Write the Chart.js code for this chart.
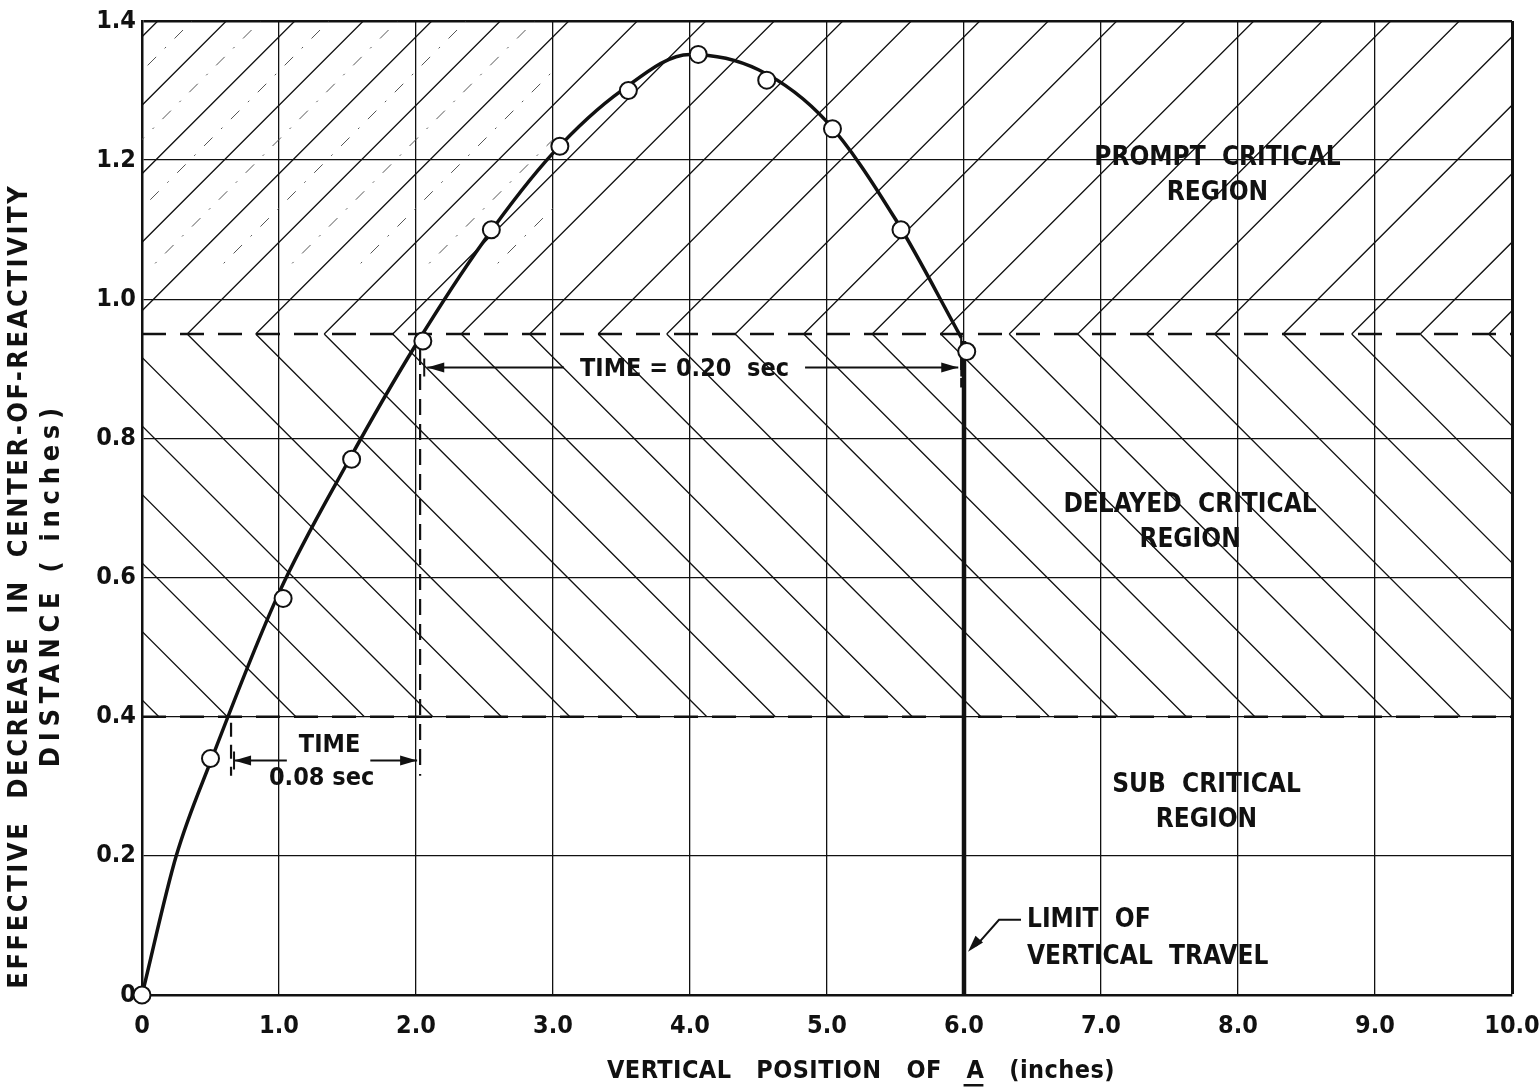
<!DOCTYPE html>
<html>
<head>
<meta charset="utf-8">
<script src="https://cdn.jsdelivr.net/npm/chart.js@4.4.0/dist/chart.umd.min.js"></script>
<style>
  html, body { margin: 0; padding: 0; background: #fff; }
</style>
</head>
<body>
<canvas id="reactivityChart" width="1539" height="1087"></canvas>
<script>
// measured points (open circles)
const pointX = [0, 0.5, 1.03, 1.53, 2.05, 2.55, 3.05, 3.55, 4.06, 4.56, 5.04, 5.54, 6.02];
const pointY = [0, 0.34, 0.57, 0.77, 0.94, 1.10, 1.22, 1.30, 1.352, 1.315, 1.245, 1.10, 0.925];

// faired curve
const curveX = [0, 0.25, 0.5, 1.0, 1.5, 2.0, 2.5, 3.0, 3.5, 4.0, 4.5, 5.0, 5.5, 5.98];
const curveY = [0, 0.20, 0.335, 0.578, 0.765, 0.935, 1.085, 1.21, 1.30, 1.352, 1.33, 1.255, 1.115, 0.945];

const xTickLabels = ["0", "1.0", "2.0", "3.0", "4.0", "5.0", "6.0", "7.0", "8.0", "9.0", "10.0"];
const yTickLabels = ["0", "0.2", "0.4", "0.6", "0.8", "1.0", "1.2", "1.4"];

// region boundaries (sub / delayed / prompt critical)
const subLimit = 0.4;
const promptLimit = 0.95;
const limitX = 6.0;
const limitTop = 0.94;

// hatch repeat along x (data units)
const hatchStart = 0.33;
const hatchStep = 0.5;

// time spans
const shortSpan = { from: 0.65, to: 2.03, y: 0.337, bottom: 0.315 };
const longSpan = { from: 2.06, to: 5.98, y: 0.902 };

const FONT = "'DejaVu Sans Condensed', 'DejaVu Sans', sans-serif";
const INK = "#111";

function arrowHead(ctx, x, y, dir) {
  ctx.beginPath();
  ctx.moveTo(x, y);
  ctx.lineTo(x - dir * 17, y - 5);
  ctx.lineTo(x - dir * 17, y + 5);
  ctx.closePath();
  ctx.fill();
}

function dashedLine(ctx, x1, y1, x2, y2, dash, w) {
  ctx.save();
  ctx.setLineDash(dash);
  ctx.lineWidth = w;
  ctx.beginPath();
  ctx.moveTo(x1, y1);
  ctx.lineTo(x2, y2);
  ctx.stroke();
  ctx.restore();
}

// draw text stretched to a given width with letter spacing
function spacedText(ctx, text, x, y, width) {
  ctx.letterSpacing = "0px";
  const w = ctx.measureText(text).width;
  const sp = Math.max(0, (width - w) / text.length);
  ctx.letterSpacing = sp + "px";
  ctx.fillText(text, x + sp / 2, y);
  ctx.letterSpacing = "0px";
}

const regionsPlugin = {
  id: "regions",
  beforeDatasetsDraw(chart) {
    const { ctx, chartArea: a, scales: { x, y } } = chart;
    const yP = y.getPixelForValue(promptLimit);
    const yS = y.getPixelForValue(subLimit);

    ctx.save();
    ctx.beginPath();
    ctx.rect(a.left, a.top, a.right - a.left, a.bottom - a.top);
    ctx.clip();
    ctx.strokeStyle = INK;
    ctx.fillStyle = INK;

    // hatching: up-right above the prompt line, down-right between the dashed lines
    ctx.lineWidth = 1.3;
    ctx.beginPath();
    for (let k = -14; k <= 22; k++) {
      const px = x.getPixelForValue(hatchStart + k * hatchStep);
      ctx.moveTo(px, yP);
      ctx.lineTo(px + (yP - a.top), a.top);
      ctx.moveTo(px, yP);
      ctx.lineTo(px + (yS - yP), yS);
    }
    ctx.stroke();

    // faint dash-dot construction lines in the upper left
    ctx.save();
    ctx.beginPath();
    ctx.rect(a.left, a.top, x.getPixelForValue(3.0) - a.left, y.getPixelForValue(1.05) - a.top);
    ctx.clip();
    ctx.strokeStyle = "#555";
    ctx.setLineDash([12, 12, 2, 12]);
    ctx.lineWidth = 1;
    ctx.beginPath();
    for (let k = -14; k <= 8; k++) {
      const px = x.getPixelForValue(hatchStart + (k + 0.5) * hatchStep);
      ctx.moveTo(px, yP);
      ctx.lineTo(px + (yP - a.top), a.top);
    }
    ctx.stroke();
    ctx.restore();

    // region boundaries
    dashedLine(ctx, a.left, yP, a.right, yP, [24, 14], 2.6);
    dashedLine(ctx, a.left, yS, a.right, yS, [24, 14], 2.6);

    // 0.08 sec span
    const sx1 = x.getPixelForValue(shortSpan.from);
    const sx2 = x.getPixelForValue(shortSpan.to);
    const sy = y.getPixelForValue(shortSpan.y);
    dashedLine(ctx, sx1, yS + 6, sx1, y.getPixelForValue(shortSpan.bottom), [14, 8], 2.2);
    dashedLine(ctx, sx2, y.getPixelForValue(pointY[4]) + 8, sx2, y.getPixelForValue(shortSpan.bottom), [16, 9], 2.2);
    ctx.font = "bold 25px " + FONT;
    ctx.textAlign = "center";
    ctx.textBaseline = "middle";
    const tMid = (sx1 + sx2) / 2 + 4;
    const tW = ctx.measureText("TIME").width;
    ctx.fillText("TIME", tMid, sy - 15);
    ctx.fillText("0.08 sec", tMid - 8, sy + 18);
    ctx.lineWidth = 2;
    ctx.beginPath();
    ctx.moveTo(sx1 + 3, sy); ctx.lineTo(tMid - tW / 2 - 12, sy);
    ctx.moveTo(tMid + tW / 2 + 10, sy); ctx.lineTo(sx2 - 3, sy);
    ctx.moveTo(sx1 + 3, sy - 9); ctx.lineTo(sx1 + 3, sy + 9);
    ctx.stroke();
    arrowHead(ctx, sx1 + 3, sy, -1);
    arrowHead(ctx, sx2 - 3, sy, 1);

    // 0.20 sec span
    const lx1 = x.getPixelForValue(longSpan.from);
    const lx2 = x.getPixelForValue(longSpan.to);
    const ly = y.getPixelForValue(longSpan.y);
    dashedLine(ctx, lx2, yP, lx2, ly + 20, [14, 8], 2.2);
    const lText = "TIME = 0.20  sec";
    const lMid = x.getPixelForValue(3.96);
    const lW = ctx.measureText(lText).width;
    ctx.fillText(lText, lMid, ly + 2);
    ctx.lineWidth = 2;
    ctx.beginPath();
    ctx.moveTo(lx1 + 3, ly); ctx.lineTo(lMid - lW / 2 - 16, ly);
    ctx.moveTo(lMid + lW / 2 + 16, ly); ctx.lineTo(lx2 - 3, ly);
    ctx.moveTo(lx1, ly - 9); ctx.lineTo(lx1, ly + 9);
    ctx.moveTo(lx2, ly - 9); ctx.lineTo(lx2, ly + 9);
    ctx.stroke();
    arrowHead(ctx, lx1 + 3, ly, -1);
    arrowHead(ctx, lx2 - 3, ly, 1);

    // region labels
    ctx.font = "bold 26px " + FONT;
    const labels = [
      [7.85, 1.203, "PROMPT  CRITICAL", "REGION"],
      [7.65, 0.704, "DELAYED  CRITICAL", "REGION"],
      [7.77, 0.302, "SUB  CRITICAL", "REGION"]
    ];
    labels.forEach(([lx, lyv, l1, l2]) => {
      const px = x.getPixelForValue(lx), py = y.getPixelForValue(lyv);
      ctx.fillText(l1, px, py);
      ctx.fillText(l2, px, py + 35);
    });

    // limit of vertical travel
    const limPx = x.getPixelForValue(limitX);
    const tx = x.getPixelForValue(6.46), ty = y.getPixelForValue(0.108);
    ctx.textAlign = "left";
    ctx.fillText("LIMIT  OF", tx, ty);
    ctx.fillText("VERTICAL  TRAVEL", tx, ty + 37);
    ctx.lineWidth = 2;
    ctx.beginPath();
    ctx.moveTo(tx - 6, ty);
    ctx.lineTo(tx - 28, ty);
    ctx.lineTo(limPx + 12, ty + 26);
    ctx.stroke();
    const ang = Math.atan2(26, -(tx - 28 - limPx - 12));
    ctx.save();
    ctx.translate(limPx + 4, ty + 32);
    ctx.rotate(ang);
    ctx.beginPath();
    ctx.moveTo(0, 0); ctx.lineTo(-17, -5); ctx.lineTo(-17, 5); ctx.closePath();
    ctx.fill();
    ctx.restore();

    ctx.restore();
  },
  afterDraw(chart) {
    const { ctx } = chart;
    ctx.save();
    ctx.fillStyle = INK;
    ctx.textBaseline = "middle";

    // x title with underlined A
    ctx.font = "bold 25px " + FONT;
    const parts = ["VERTICAL   POSITION   OF   ", "A", "   (inches)"];
    const raw = parts.map(p => ctx.measureText(p).width);
    const rawTotal = raw.reduce((s, w) => s + w, 0);
    const nChars = parts.join("").length;
    const sp = Math.max(0, (508 - rawTotal) / nChars);
    ctx.letterSpacing = sp + "px";
    const widths = parts.map(p => ctx.measureText(p).width);
    const total = widths.reduce((s, w) => s + w, 0);
    let cx = 861 - total / 2;
    const ty = 1071;
    ctx.textAlign = "left";
    parts.forEach((p, i) => {
      ctx.fillText(p, cx, ty);
      if (i === 1) ctx.fillRect(cx - 3, ty + 13, widths[i] + 2, 2.5);
      cx += widths[i];
    });
    ctx.letterSpacing = "0px";

    // y title
    ctx.textAlign = "left";
    ctx.font = "bold 27px " + FONT;
    ctx.rotate(-Math.PI / 2);
    spacedText(ctx, "EFFECTIVE  DECREASE  IN  CENTER-OF-REACTIVITY", -990, 20, 805);
    spacedText(ctx, "DISTANCE ( inches)", -770, 52, 365);
    ctx.restore();
  }
};

const ctx = document.getElementById("reactivityChart").getContext("2d");
const reactivityChart = new Chart(ctx, {
  type: "scatter",
  data: {
    datasets: [
      {
        data: pointX.map((v, i) => ({ x: v, y: pointY[i] })),
        pointRadius: 8.5,
        pointBackgroundColor: "#fff",
        pointBorderColor: INK,
        pointBorderWidth: 2,
        showLine: false,
        clip: false
      },
      {
        data: curveX.map((v, i) => ({ x: v, y: curveY[i] })),
        showLine: true,
        borderColor: INK,
        borderWidth: 3.5,
        cubicInterpolationMode: "monotone",
        pointRadius: 0,
        fill: false
      },
      {
        data: [{ x: limitX, y: 0 }, { x: limitX, y: limitTop }],
        showLine: true,
        borderColor: INK,
        borderWidth: 4.5,
        pointRadius: 0
      }
    ]
  },
  options: {
    responsive: false,
    maintainAspectRatio: false,
    animation: false,
    layout: { padding: { top: 21, right: 27, left: 0, bottom: 0 } },
    plugins: {
      legend: { display: false },
      tooltip: { enabled: false }
    },
    scales: {
      x: {
        type: "linear",
        min: 0,
        max: 10,
        ticks: {
          stepSize: 1,
          padding: 16,
          autoSkip: false,
          maxRotation: 0,
          color: INK,
          font: { family: FONT, size: 25, weight: "bold" },
          callback: (v, i) => xTickLabels[i]
        },
        grid: {
          color: INK,
          lineWidth: c => (c.index === 10 ? 3 : 1.3),
          drawTicks: false
        },
        border: { color: INK, width: 2.5 },
        afterFit: s => { s.height = 92; s.paddingLeft = 0; s.paddingRight = 0; }
      },
      y: {
        min: 0,
        max: 1.4,
        ticks: {
          stepSize: 0.2,
          padding: 6,
          color: INK,
          font: { family: FONT, size: 25, weight: "bold" },
          callback: (v, i) => yTickLabels[i]
        },
        grid: {
          color: INK,
          lineWidth: c => (c.index === 7 ? 2.5 : 1.3),
          drawTicks: false
        },
        border: { color: INK, width: 2.5 },
        afterFit: s => { s.width = 142; s.paddingTop = 0; s.paddingBottom = 0; }
      }
    }
  },
  plugins: [regionsPlugin]
});
</script>
</body>
</html>
